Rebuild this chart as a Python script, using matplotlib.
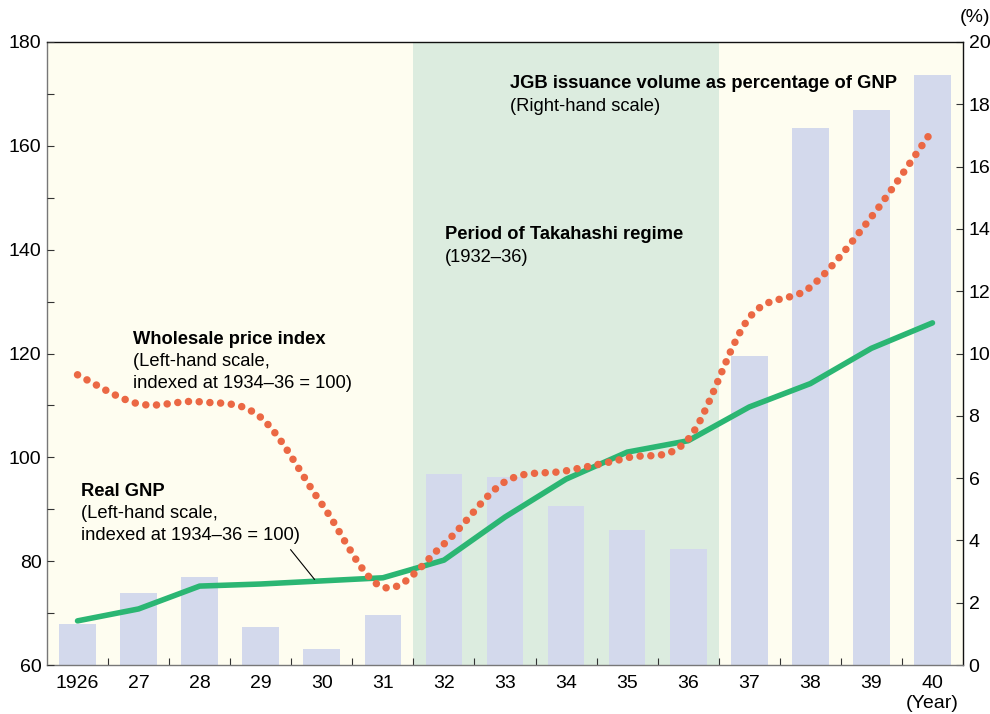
import numpy as np
import matplotlib
matplotlib.use('Agg')
import matplotlib.pyplot as plt
from matplotlib.path import Path
from matplotlib.patches import PathPatch

plt.rcParams['font.family'] = ['Liberation Sans', 'DejaVu Sans']

years = ['1926', '27', '28', '29', '30', '31', '32', '33', '34', '35', '36', '37', '38', '39', '40']
# JGB issuance volume as % of GNP (right-hand scale)
jgb_pct = [1.32, 2.31, 2.83, 1.22, 0.51, 1.6, 6.13, 6.04, 5.1, 4.33, 3.72, 9.92, 17.24, 17.82, 18.94]
# real GNP, 1934-36 = 100 (left-hand scale)
real_gnp = [68.5, 70.8, 75.2, 75.6, 76.2, 76.8, 80.2, 88.5, 95.8, 101.0, 103.2, 109.7, 114.2, 121.0, 125.9]
# wholesale price index, 1934-36 = 100 (left-hand scale)
wpi = [115.9, 110.3, 110.7, 107.7, 91.0, 75.0, 83.3, 95.3, 97.4, 99.9, 103.5, 126.9, 132.8, 146.3, 163.0]

CREAM = '#fefdf0'
SHADE = '#dcecdf'
BAR = '#d3d9ec'
GREEN = '#2bb673'
RED = '#eb6844'


def smooth_path(xs, ys):
    # catmull-rom through the points, drawn as cubic bezier
    pts = np.column_stack([xs, ys]).astype(float)
    ext = np.vstack([pts[0], pts, pts[-1]])
    verts = [pts[0]]
    codes = [Path.MOVETO]
    for i in range(1, len(ext) - 2):
        p0, p1, p2, p3 = ext[i - 1], ext[i], ext[i + 1], ext[i + 2]
        verts += [p1 + (p2 - p0) / 6, p2 - (p3 - p1) / 6, p2]
        codes += [Path.CURVE4] * 3
    return Path(verts, codes)


fig = plt.figure(figsize=(9.9, 7.14), dpi=100)
ax = fig.add_axes([47 / 990, 49 / 714, 916 / 990, 623 / 714])
ax.set_facecolor(CREAM)
x = np.arange(len(years))

# host axes: bars on the right-hand scale
ax.axvspan(5.5, 10.5, color=SHADE, zorder=0, lw=0)
ax.bar(x, jgb_pct, width=0.6, color=BAR, zorder=1)
ax.set_xlim(-0.5, len(years) - 0.5)
ax.set_ylim(0, 20)

ax.set_xticks(x)
ax.set_xticklabels(years)
ax.set_xticks(x[:-1] + 0.5, minor=True)
ax.tick_params(axis='x', which='major', length=0, pad=7, labelsize=14)
ax.tick_params(axis='x', which='minor', direction='in', length=5, width=0.8, color='#333333')

for side, col in [('left', '#777777'), ('bottom', '#777777'), ('top', '#111111'), ('right', '#111111')]:
    ax.spines[side].set_color(col)
    ax.spines[side].set_linewidth(1.0)

# twin axes: lines on the left-hand scale
ax2 = ax.twinx()
ax2.set_ylim(60, 180)
ax2.set_yticks(range(60, 181, 20))
ax2.set_yticks(range(70, 180, 20), minor=True)
ax2.tick_params(axis='y', which='both', direction='in', length=5, width=0.8, pad=4,
                labelsize=14, color='#333333', left=True, labelleft=True,
                right=False, labelright=False)
for s in ax2.spines.values():
    s.set_visible(False)

ax.set_yticks(range(0, 21, 2))
ax.tick_params(axis='y', direction='in', length=5, width=0.8, pad=4, labelsize=14, color='#333333',
               left=False, labelleft=False, right=True, labelright=True)

ax2.plot(x, real_gnp, color=GREEN, lw=4.0, solid_capstyle='round', solid_joinstyle='round', zorder=3)
ax2.add_patch(PathPatch(smooth_path(x, wpi), fill=False, edgecolor=RED, lw=5.4,
                        linestyle=(0, (0.01, 1.42)), capstyle='round', zorder=4))

# leader line for real GNP
ax2.plot([3.49, 3.88], [82.2, 76.5], color='black', lw=0.8, zorder=5)


def label(px, py, lines):
    for i, t in enumerate(lines):
        fig.text(px / 990, 1 - (py + i * 22.5) / 714, t, fontsize=13.2, va='center', ha='left',
                 fontweight='bold' if i == 0 else 'normal')


label(133, 339, ['Wholesale price index', '(Left-hand scale,', 'indexed at 1934\u201336 = 100)'])
label(81, 491, ['Real GNP', '(Left-hand scale,', 'indexed at 1934\u201336 = 100)'])
label(445, 235, ['Period of Takahashi regime', '(1932\u201336)'])
label(510, 84, ['JGB issuance volume as percentage of GNP', '(Right-hand scale)'])

fig.text(975 / 990, 1 - 18 / 714, '(%)', fontsize=14, ha='center', va='center')
fig.text(932 / 990, 1 - 703 / 714, '(Year)', fontsize=14, ha='center', va='center')

fig.savefig('out.png', dpi=100)
